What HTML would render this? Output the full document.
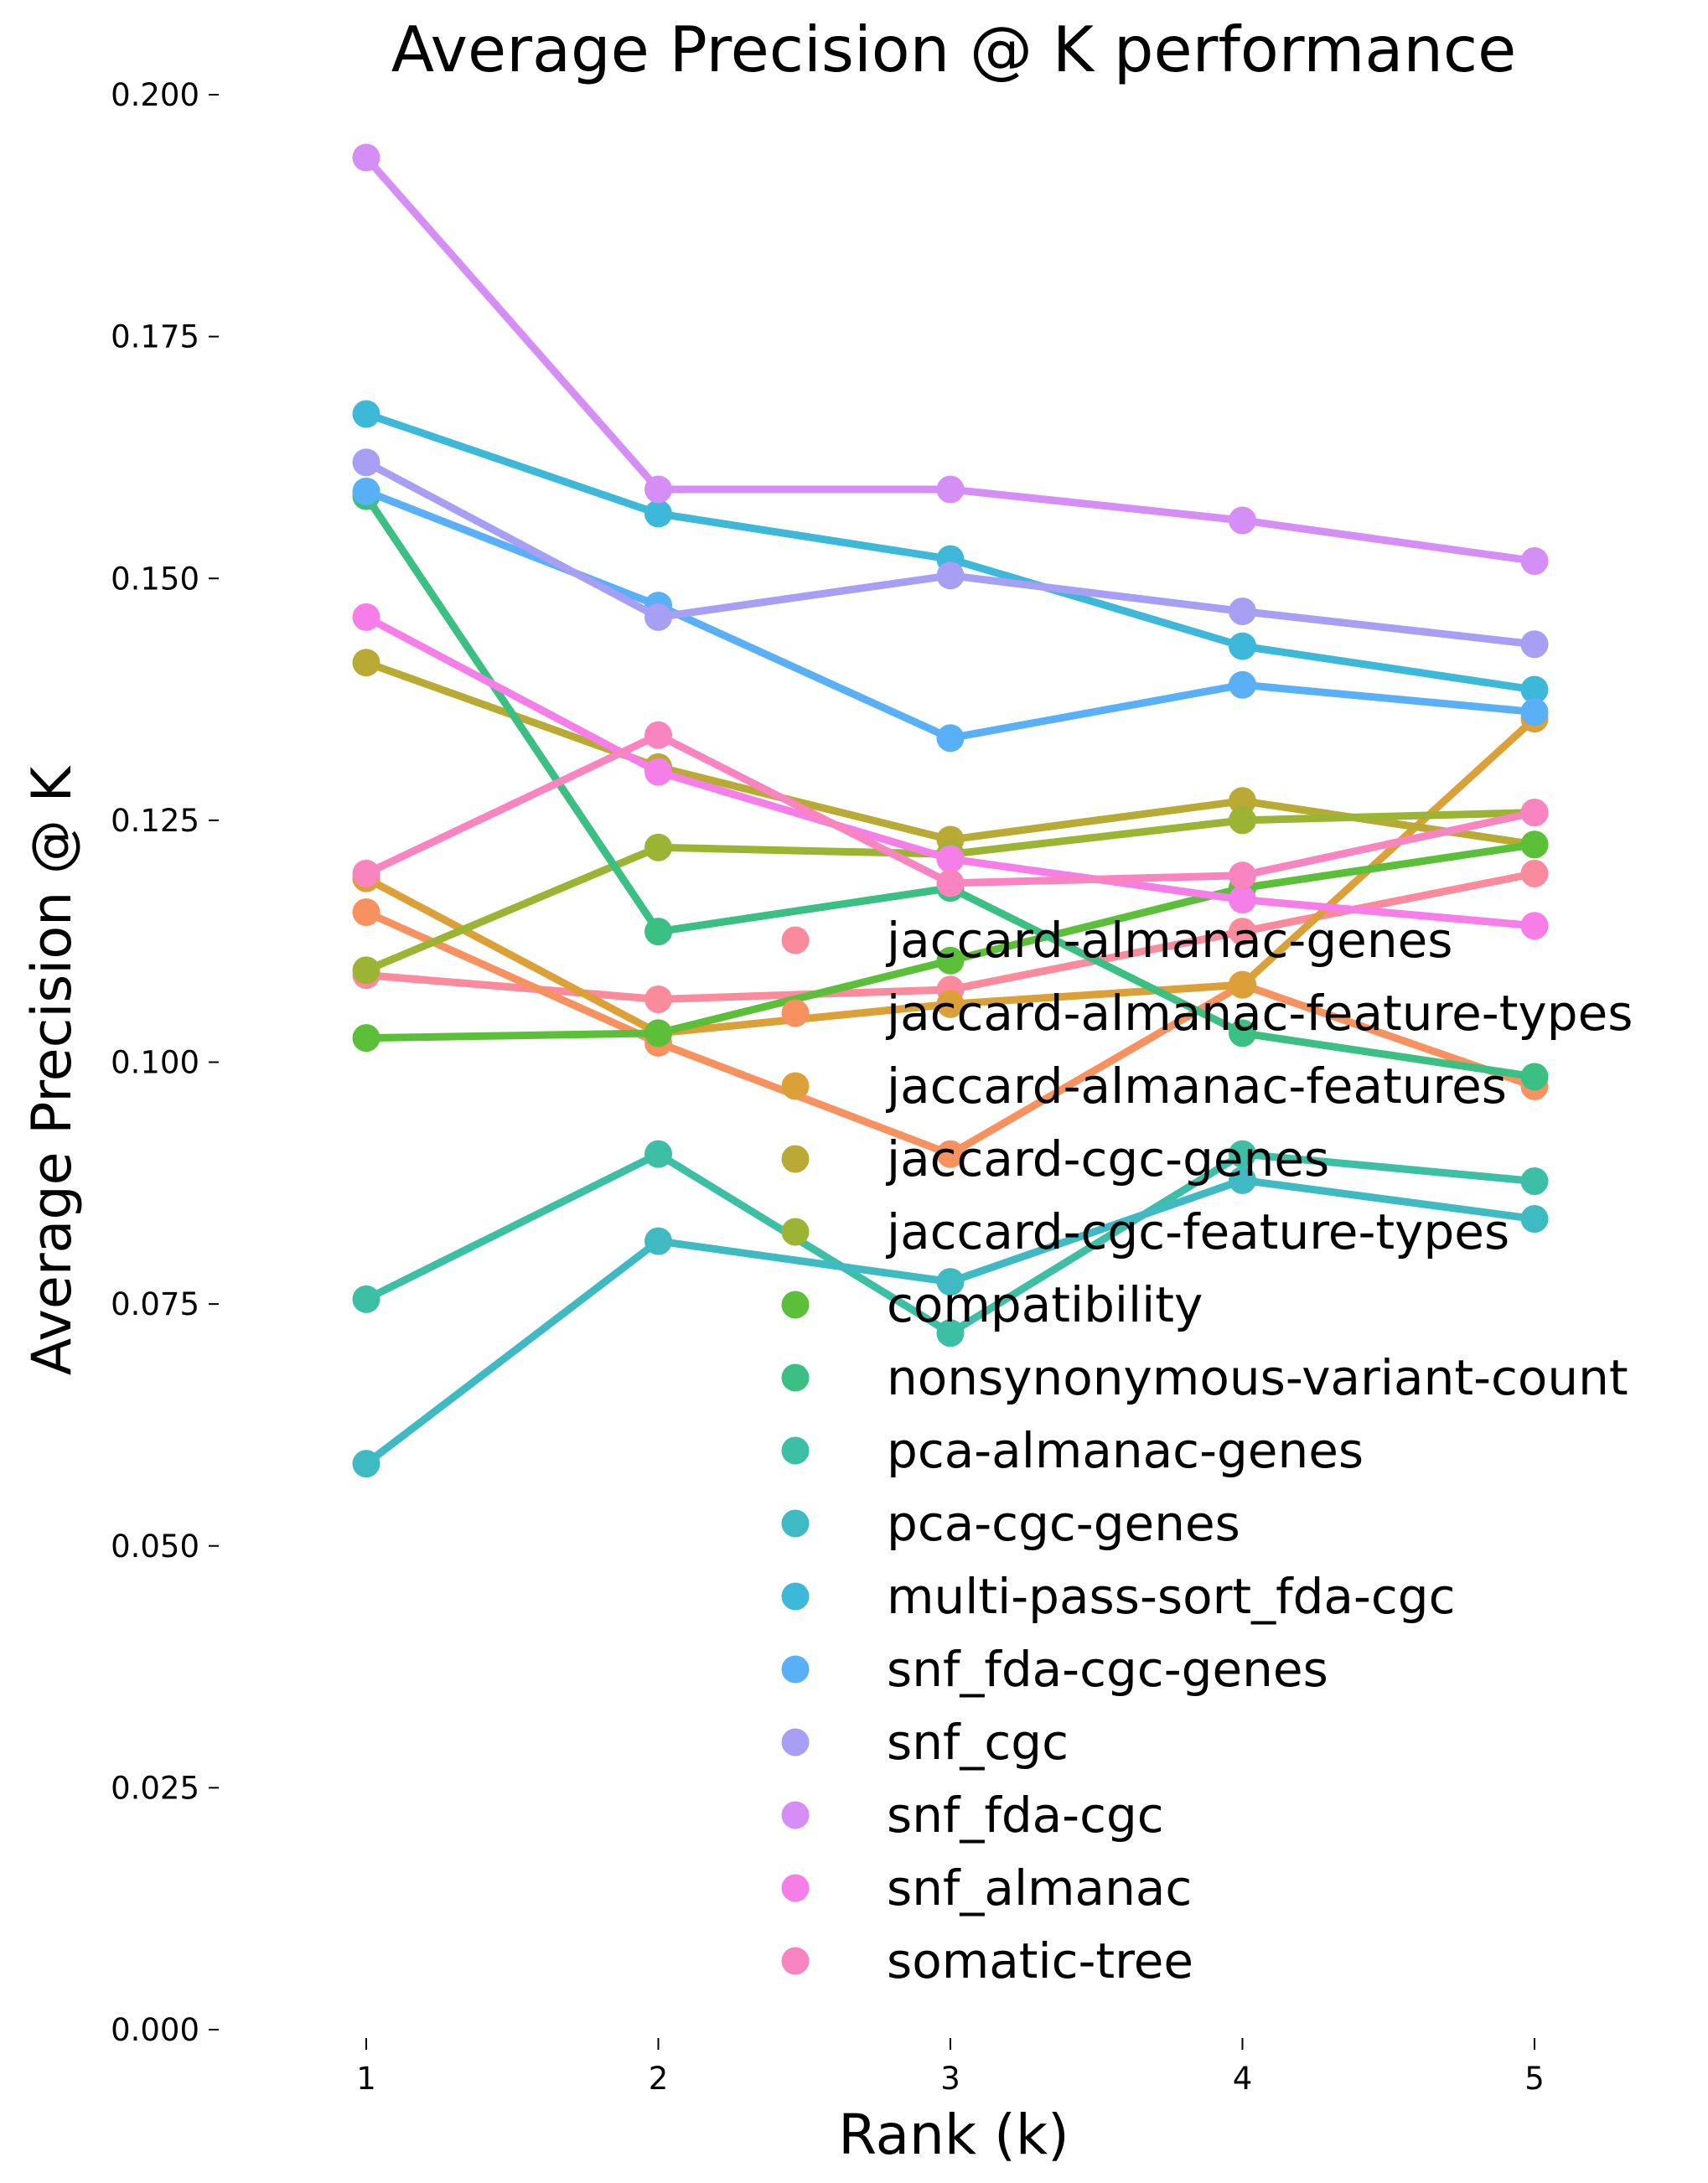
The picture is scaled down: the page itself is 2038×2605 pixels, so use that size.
<!DOCTYPE html>
<html><head><meta charset="utf-8"><style>
html,body{margin:0;padding:0;background:#fff;}
svg{display:block;font-family:"DejaVu Sans","Liberation Sans",sans-serif;}
</style></head><body>
<svg id="chart" width="2038" height="2605" viewBox="0 0 2038 2605" xmlns="http://www.w3.org/2000/svg">
<text x="1138" y="85" font-size="75" text-anchor="middle">Average Precision @ K performance</text>
<text x="1138" y="2570" font-size="66" text-anchor="middle">Rank (k)</text>
<text transform="translate(84,1278) rotate(-90)" font-size="65" text-anchor="middle">Average Precision @ K</text>
<g id="yaxis"></g>
<g id="xaxis"></g>
<g id="series"></g>
<g id="legend"></g>
</svg>
<script>
const ranks = [1,2,3,4,5];
const yTicks = [0,0.025,0.05,0.075,0.1,0.125,0.15,0.175,0.2];
const yTickLabels = ["0.000","0.025","0.050","0.075","0.100","0.125","0.150","0.175","0.200"];
const seriesNames = ["jaccard-almanac-genes","jaccard-almanac-feature-types","jaccard-almanac-features","jaccard-cgc-genes","jaccard-cgc-feature-types","compatibility","nonsynonymous-variant-count","pca-almanac-genes","pca-cgc-genes","multi-pass-sort_fda-cgc","snf_fda-cgc-genes","snf_cgc","snf_fda-cgc","snf_almanac","somatic-tree"];
const seriesColors = ["#f98b9d","#f79260","#dba038","#b8aa35","#9cb434","#5bbf3a","#3cbf82","#3dbfa6","#3fbac3","#3db8d8","#5ab0f7","#a69ff4","#d48ef5","#f57ee8","#f885c0"];
const s0 = [0.109,0.1065,0.1075,0.1135,0.1195];
const s1 = [0.1155,0.102,0.0905,0.108,0.0975];
const s2 = [0.119,0.103,0.106,0.108,0.1355];
const s3 = [0.1413,0.1305,0.123,0.127,0.1225];
const s4 = [0.1095,0.1222,0.1215,0.125,0.1258];
const s5 = [0.1025,0.103,0.1105,0.118,0.1225];
const s6 = [0.1585,0.1135,0.118,0.103,0.0985];
const s7 = [0.0755,0.0905,0.072,0.0905,0.0877];
const s8 = [0.0585,0.0815,0.0773,0.0878,0.0838];
const s9 = [0.167,0.1567,0.152,0.143,0.1385];
const s10 = [0.159,0.1472,0.1335,0.139,0.1362];
const s11 = [0.162,0.146,0.1503,0.1466,0.1432];
const s12 = [0.1935,0.1592,0.1592,0.156,0.1518];
const s13 = [0.146,0.13,0.121,0.1168,0.1141];
const s14 = [0.1195,0.1338,0.1185,0.1193,0.1258];
const seriesValues = [s0,s1,s2,s3,s4,s5,s6,s7,s8,s9,s10,s11,s12,s13,s14];

const NS = "http://www.w3.org/2000/svg";
function xScale(k){ return 437 + (k-1)*348.5; }
function yScale(v){ return 2422 - v/0.2*2309; }
function mk(tag, attrs, parent){ const e=document.createElementNS(NS,tag); for(const a in attrs) e.setAttribute(a, attrs[a]); parent.appendChild(e); return e; }

const ya = document.getElementById('yaxis');
yTicks.forEach((t,i)=>{
  const y=yScale(t);
  const l=mk('line',{x1:249,x2:261,y1:y,y2:y,stroke:'#000','stroke-width':2},ya);
  
  
  const tx=mk('text',{x:238,y:y+13,'font-size':37,'text-anchor':'end'},ya);
  tx.textContent=yTickLabels[i];
  
  
});
const xa = document.getElementById('xaxis');
ranks.forEach(k=>{
  const x=xScale(k);
  const l=mk('line',{x1:x,x2:x,y1:2432,y2:2446,stroke:'#000','stroke-width':2},xa);
  
  
  const tx=mk('text',{x:x,y:2493,'font-size':37,'text-anchor':'middle'},xa);
  tx.textContent=String(k);
  
  
});
const sg = document.getElementById('series');
seriesValues.forEach((vals,si)=>{
  const g=mk('g',{},sg);
  
  
  const pts=vals.map((v,i)=>xScale(ranks[i])+','+yScale(v)).join(' ');
  const pl=mk('polyline',{points:pts,fill:'none',stroke:seriesColors[si],'stroke-width':9,'stroke-linejoin':'round'},g);
  
  
  vals.forEach((v,i)=>{
    const c=mk('circle',{cx:xScale(ranks[i]),cy:yScale(v),r:16.5,fill:seriesColors[si]},g);
    
    
  });
});
const lg = document.getElementById('legend');
seriesNames.forEach((n,i)=>{
  const y=1122+i*87.0;
  const g=mk('g',{},lg);
  
  
  const c=mk('circle',{cx:949,cy:y,r:16.5,fill:seriesColors[i]},g);
  
  
  const t=mk('text',{x:1058,y:y+20,'font-size':58},g);
  t.textContent=n;
  
  
});
</script>
</body></html>
